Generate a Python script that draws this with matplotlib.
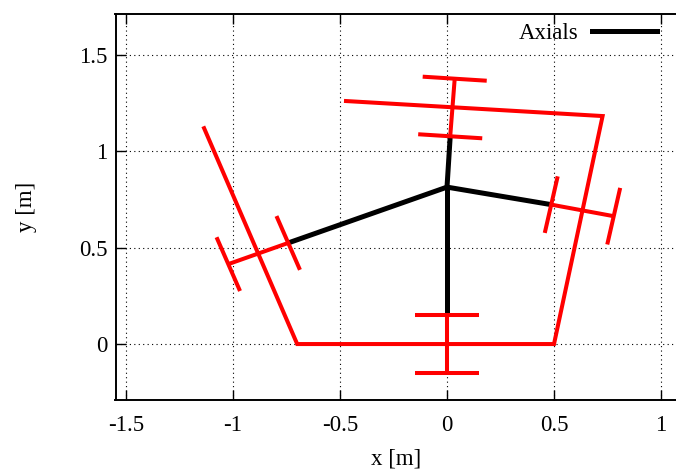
import numpy as np
import matplotlib.pyplot as plt
from matplotlib.lines import Line2D

# centre of the axials
center = (0.0, 0.815)

# support polygon (open polyline)
poly_x = [-0.472, 0.727, 0.5, -0.70, -1.135]
poly_y = [1.262, 1.184, 0.0, 0.0, 1.121]

# error bars on each axial: inner end / outer end
inner_x = [0.0, 0.487, 0.015, -0.742]
inner_y = [0.15, 0.724, 1.079, 0.525]
outer_x = [0.0, 0.779, 0.036, -1.022]
outer_y = [-0.15, 0.664, 1.378, 0.415]
cap_half = 0.15

xticks = [-1.5, -1, -0.5, 0, 0.5, 1]
yticks = [0, 0.5, 1, 1.5]

plt.rcParams['font.family'] = ['Liberation Serif', 'DejaVu Serif']
plt.rcParams['font.size'] = 16.5

fig = plt.figure(figsize=(6.76, 4.69), dpi=100)
ax = fig.add_axes([115.5 / 676, (469 - 399.5) / 469, (676 - 115.5) / 676, (399.5 - 14) / 469])

red = '#ff0000'
# black axials
for xi, yi in zip(inner_x, inner_y):
    ax.plot([center[0], xi], [center[1], yi], color='black', lw=3.6,
            solid_capstyle='butt', zorder=3)

# red polygon
ax.plot(poly_x, poly_y, color=red, lw=2.9, solid_joinstyle='miter', zorder=2)

# red error bars with caps
for xi, yi, xo, yo in zip(inner_x, inner_y, outer_x, outer_y):
    ax.plot([xi, xo], [yi, yo], color=red, lw=2.9, solid_capstyle='butt', zorder=4)
    d = np.array([xo - xi, yo - yi])
    d = d / np.linalg.norm(d)
    p = np.array([-d[1], d[0]]) * cap_half
    for cx, cy in [(xi, yi), (xo, yo)]:
        ax.plot([cx - p[0], cx + p[0]], [cy - p[1], cy + p[1]], color=red,
                lw=2.9, solid_capstyle='butt', zorder=4)

ax.set_xlim(-1.549, 1.07)
ax.set_ylim(-0.288, 1.714)
ax.set_xticks(xticks)
ax.set_yticks(yticks)
ax.set_xticklabels(['-1.5', '-1', '-0.5', '0', '0.5', '1'])
ax.set_yticklabels(['0', '0.5', '1', '1.5'])
ax.grid(True, color='black', linestyle=(0, (1, 3)), lw=0.8)
ax.tick_params(direction='in', length=7, width=1.0, top=True, right=False)
ax.tick_params(axis='x', pad=11)
ax.tick_params(axis='y', pad=6)
for s in ['left', 'bottom', 'top']:
    ax.spines[s].set_linewidth(1.4)
ax.spines['right'].set_visible(False)

ax.set_xlabel('x [m]', labelpad=9)
ax.set_ylabel('y [m]', labelpad=30)

handle = Line2D([], [], color='black', lw=3.6)
ax.legend([handle], ['Axials'], loc='upper right', frameon=False,
          markerfirst=False, handlelength=2.85, handletextpad=0.6,
          bbox_to_anchor=(1.0, 1.026), borderaxespad=0.42)

fig.savefig('out.png', dpi=100)
